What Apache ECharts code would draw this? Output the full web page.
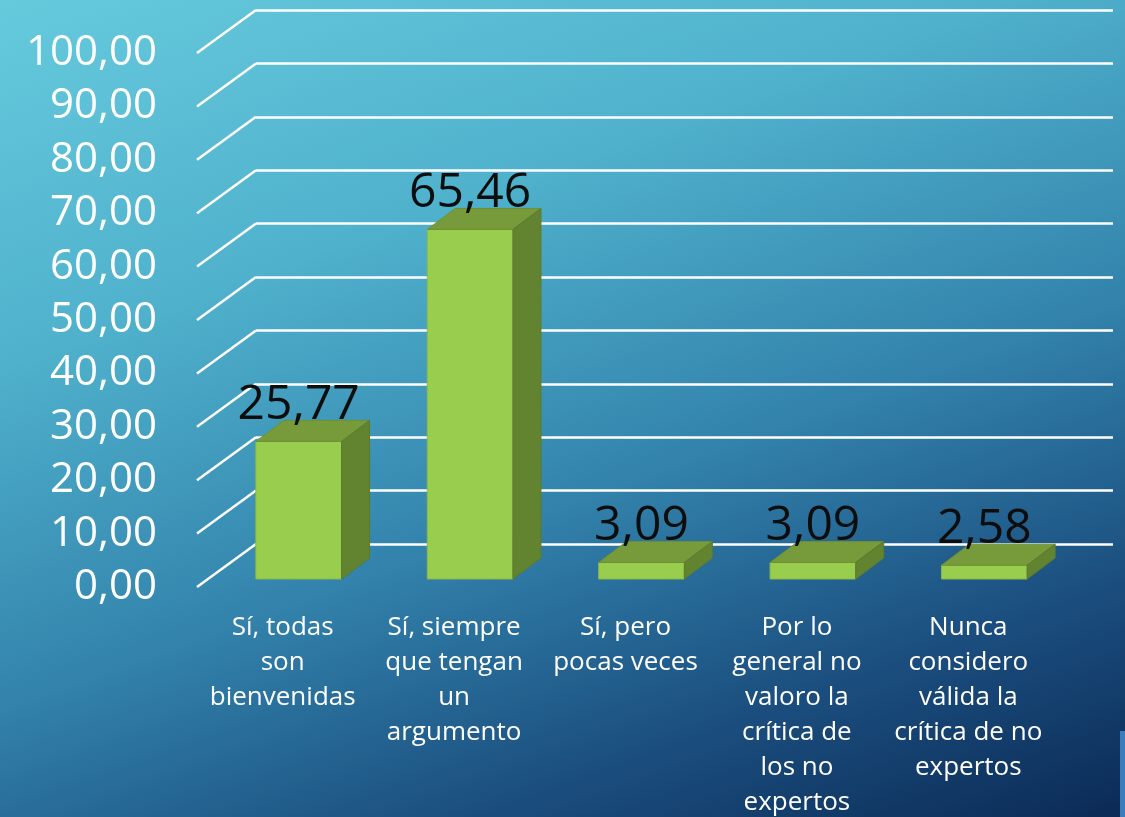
<!DOCTYPE html>
<html>
<head>
<meta charset="utf-8">
<script src="https://cdn.jsdelivr.net/npm/echarts/dist/echarts.min.js"></script>
<style>
  html, body { margin: 0; padding: 0; }
  #myChart {
    width: 1125px;
    height: 817px;
    background: linear-gradient(160deg, #66cadd 0%, #4fb1cc 30%, #3282ab 58%, #1b4f80 80%, #0b2a55 100%);
  }
</style>
</head>
<body>
<div id="myChart"></div>
<script>
// datos
const categories = [
  'Sí, todas\nson\nbienvenidas',
  'Sí, siempre\nque tengan\nun\nargumento',
  'Sí, pero\npocas veces',
  'Por lo\ngeneral no\nvaloro la\ncrítica de\nlos no\nexpertos',
  'Nunca\nconsidero\nválida la\ncrítica de no\nexpertos'
];
const values = [25.77, 65.46, 3.09, 3.09, 2.58];
const yTicks = [0, 10, 20, 30, 40, 50, 60, 70, 80, 90, 100];

const FONT = '"Open Sans"';
// perspectiva (pared del fondo -> borde frontal)
const WALL_DX = -59, WALL_DY = 43;
// posición de la barra respecto al borde frontal y su profundidad
const BAR_DX = 16, BAR_DY = -8;
const DEPTH_X = 28, DEPTH_Y = -21;

function fmt(v) {
  return v.toFixed(2).replace('.', ',');
}

let myChart = echarts.init(document.getElementById('myChart'));

myChart.setOption({
  backgroundColor: 'transparent',
  animation: false,
  grid: [
    { left: 256, right: 12, top: 10, bottom: 273, outerBoundsMode: 'none' },  // pared del fondo
    { left: 197, right: 71, top: 53, bottom: 230, outerBoundsMode: 'none' }   // borde frontal
  ],
  xAxis: [
    { type: 'category', gridIndex: 0, data: categories, show: false },
    {
      type: 'category',
      gridIndex: 1,
      data: categories,
      axisLine: { show: false },
      axisTick: { show: false },
      axisLabel: {
        interval: 0,
        margin: 23,
        color: '#fff',
        fontFamily: FONT,
        fontSize: 26,
        lineHeight: 35
      }
    }
  ],
  yAxis: [
    {
      type: 'value',
      gridIndex: 0,
      min: 0,
      max: 100,
      interval: 10,
      axisLine: { show: false },
      axisTick: { show: false },
      axisLabel: { show: false },
      splitLine: { lineStyle: { color: '#ffffff', width: 2.5 } }
    },
    {
      type: 'value',
      gridIndex: 1,
      min: 0,
      max: 100,
      interval: 10,
      axisLine: { show: false },
      axisTick: { show: false },
      splitLine: { show: false },
      axisLabel: {
        margin: 40,
        color: '#fff',
        fontFamily: FONT,
        fontSize: 42,
        showMinLabel: true,
        showMaxLabel: true,
        formatter: fmt
      }
    }
  ],
  series: [
    {
      // diagonales de la pared lateral
      type: 'custom',
      xAxisIndex: 0,
      yAxisIndex: 0,
      data: yTicks.map(v => [0, v]),
      silent: true,
      renderItem: function (params, api) {
        const x0 = params.coordSys.x;
        const y0 = api.coord([0, api.value(1)])[1];
        return {
          type: 'line',
          shape: { x1: x0, y1: y0, x2: x0 + WALL_DX, y2: y0 + WALL_DY },
          style: { stroke: '#ffffff', lineWidth: 2.5 }
        };
      }
    },
    {
      // barras 3D
      type: 'custom',
      xAxisIndex: 1,
      yAxisIndex: 1,
      data: values.map((v, i) => [i, v]),
      renderItem: function (params, api) {
        const i = api.value(0);
        const v = api.value(1);
        const base = api.coord([i, 0]);
        const top = api.coord([i, v]);
        const w = api.size([1, 0])[0] * 0.5;
        const x = base[0] + BAR_DX - w / 2;
        const yb = base[1] + BAR_DY;
        const yt = top[1] + BAR_DY;
        return {
          type: 'group',
          children: [
            {
              type: 'rect',
              shape: { x: x, y: yt, width: w, height: yb - yt },
              style: { fill: '#99cd4e', stroke: '#88b944', lineWidth: 1 }
            },
            {
              type: 'polygon',
              shape: { points: [[x, yt], [x + w, yt], [x + w + DEPTH_X, yt + DEPTH_Y], [x + DEPTH_X, yt + DEPTH_Y]] },
              style: { fill: '#779b3b', stroke: '#6e9036', lineWidth: 1 }
            },
            {
              type: 'polygon',
              shape: { points: [[x + w, yt], [x + w + DEPTH_X, yt + DEPTH_Y], [x + w + DEPTH_X, yb + DEPTH_Y], [x + w, yb]] },
              style: { fill: '#628431', stroke: '#5a7a2d', lineWidth: 1 }
            },
            {
              type: 'text',
              style: {
                x: x + w / 2,
                y: yt + DEPTH_Y + 9,
                text: fmt(v),
                fill: '#0d0d0d',
                font: '48px ' + FONT,
                textAlign: 'center',
                textVerticalAlign: 'bottom'
              }
            }
          ]
        };
      }
    }
  ],
  graphic: [
    {
      type: 'rect',
      right: 0,
      bottom: 0,
      shape: { width: 5, height: 86 },
      style: { fill: '#3b7cbd' }
    }
  ]
});
</script>
</body>
</html>
